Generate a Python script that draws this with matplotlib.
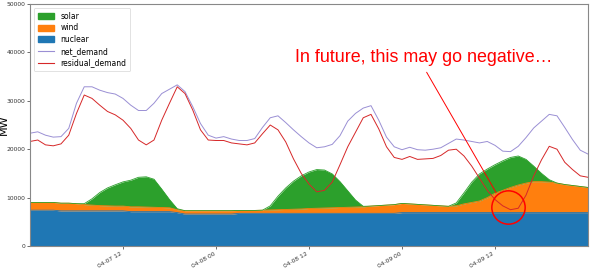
import numpy as np
import pandas as pd
import matplotlib
matplotlib.use('Agg')
import matplotlib.pyplot as plt
from matplotlib.patches import Patch
from matplotlib.lines import Line2D

# hourly values in thousand MW, 04-07 00:00 .. 04-10 00:00
net_demand = [23.3, 23.6, 22.9, 22.5, 22.6, 24.3, 29.5, 32.9, 32.9, 32.2, 31.7, 31.4,
              30.5, 29.1, 28.0, 28.0, 29.5, 31.5, 32.4, 33.3, 31.9, 28.8, 25.3, 22.9,
              22.3, 22.6, 22.1, 21.8, 21.8, 22.2, 24.5, 26.5, 26.9, 25.5, 24.0, 22.6,
              21.3, 20.3, 20.5, 21.0, 22.8, 25.8, 27.4, 28.5, 29.0, 26.0, 22.5, 20.5,
              19.9, 20.4, 19.9, 19.8, 20.0, 20.3, 21.2, 22.1, 21.9, 21.6, 21.3, 21.6,
              20.8, 19.6, 19.5, 20.6, 22.4, 24.4, 25.8, 27.2, 26.9, 24.5, 22.0, 19.8,
              19.0]
residual_demand = [21.6, 21.9, 20.9, 20.7, 21.1, 22.9, 27.4, 31.2, 30.5, 29.1, 27.8, 27.1,
                   26.0, 24.3, 21.9, 20.9, 21.9, 26.0, 29.5, 32.9, 31.5, 28.1, 24.0, 21.9,
                   21.8, 21.8, 21.3, 21.1, 20.9, 21.3, 23.2, 25.0, 24.0, 21.5, 18.0, 15.0,
                   12.8, 11.2, 11.5, 13.2, 16.8, 20.5, 23.5, 26.5, 27.2, 24.2, 20.5, 18.3,
                   17.9, 18.5, 17.9, 18.0, 18.1, 18.7, 19.8, 20.0, 18.6, 16.5, 14.0, 11.5,
                   9.6, 8.3, 7.5, 7.8, 10.5, 14.5, 17.8, 20.6, 20.0, 17.3, 15.8, 14.5,
                   14.2]
nuclear = [7.4, 7.4, 7.4, 7.4, 7.25, 7.25, 7.25, 7.25, 7.25, 7.25, 7.25, 7.25,
           7.25, 7.1, 7.1, 7.1, 7.1, 7.1, 7.1, 6.9, 6.6, 6.6, 6.6, 6.6,
           6.6, 6.6, 6.6, 6.75, 6.75, 6.75, 6.75, 6.75, 6.75, 6.75, 6.75, 6.75,
           6.75, 6.75, 6.75, 6.75, 6.75, 6.75, 6.75, 6.75, 6.75, 6.75, 6.75, 6.75,
           6.9, 6.9, 6.9, 6.9, 6.9, 6.9, 6.9, 6.9, 6.9, 6.9, 6.9, 6.9,
           6.9, 6.9, 6.9, 6.9, 6.9, 6.9, 6.9, 6.9, 6.9, 6.9, 6.9, 6.9,
           6.9]
wind = [1.6, 1.6, 1.6, 1.6, 1.6, 1.6, 1.5, 1.3, 1.2, 1.1, 1.05, 1.0,
        1.0, 1.0, 1.0, 0.95, 0.9, 0.85, 0.8, 0.6, 0.7, 0.7, 0.7, 0.7,
        0.7, 0.7, 0.7, 0.6, 0.6, 0.6, 0.65, 0.7, 0.75, 0.8, 0.85, 0.9,
        1.0, 1.05, 1.1, 1.15, 1.2, 1.25, 1.3, 1.35, 1.5, 1.6, 1.7, 1.8,
        1.9, 1.8, 1.7, 1.6, 1.5, 1.4, 1.3, 1.4, 1.8, 2.1, 2.4, 3.1,
        4.0, 4.6, 5.2, 5.7, 6.1, 6.4, 6.4, 6.3, 6.1, 5.8, 5.6, 5.4,
        5.2]
solar = [0, 0, 0, 0, 0, 0, 0, 0.2, 1.3, 2.7, 3.7, 4.4,
         5.0, 5.5, 6.1, 6.25, 5.8, 3.8, 1.7, 0.2, 0, 0, 0, 0,
         0, 0, 0, 0, 0, 0, 0, 0.85, 2.8, 4.45, 5.8, 6.85,
         7.55, 8.0, 7.85, 7.0, 5.35, 3.4, 1.45, 0.1, 0, 0, 0, 0,
         0, 0, 0, 0, 0, 0, 0, 0.6, 2.3, 4.2, 5.6, 5.9,
         5.9, 6.1, 6.2, 6.0, 4.9, 3.2, 1.7, 0.5, 0, 0, 0, 0,
         0]

times = pd.date_range('2021-04-07 00:00', periods=len(net_demand), freq='h')
tick_times = pd.date_range('2021-04-07 12:00', '2021-04-09 12:00', freq='12h')

note_text = 'In future, this may go negative\u2026'
note_pos = (pd.Timestamp('2021-04-08 10:10'), 38000)
arrow_start = (pd.Timestamp('2021-04-09 03:00'), 36400)
arrow_end = (pd.Timestamp('2021-04-09 12:20'), 10500)
ring_pos = (pd.Timestamp('2021-04-09 13:40'), 8000)

df = pd.DataFrame({'nuclear': nuclear, 'wind': wind, 'solar': solar,
                   'net_demand': net_demand, 'residual_demand': residual_demand},
                  index=times) * 1000

c_solar = '#2ca02c'
c_wind = '#ff7f0e'
c_nuc = '#1f77b4'
c_net = '#9a8fd4'
c_res = '#d62728'

fig = plt.figure(figsize=(6.07, 2.69), dpi=100)
ax = fig.add_axes([0.0494, 0.0855, 0.9193, 0.8995])

base = np.zeros(len(df))
for col, c in [('nuclear', c_nuc), ('wind', c_wind), ('solar', c_solar)]:
    top = base + df[col].values
    ax.fill_between(df.index, base, top, color=c, lw=0)
    ax.plot(df.index, top, color=c, lw=0.6)
    base = top

ax.plot(df.index, df['net_demand'], color=c_net, lw=0.7)
ax.plot(df.index, df['residual_demand'], color=c_res, lw=0.7)

ax.text(note_pos[0], note_pos[1], note_text, color='red', fontsize=12.9,
        family='Liberation Sans')
ax.annotate('', xy=arrow_end, xytext=arrow_start,
            arrowprops=dict(arrowstyle='-', color='red', lw=0.7))
ax.plot([ring_pos[0]], [ring_pos[1]], 'o', ms=24, mfc='none', mec='red', mew=1.1)

ax.set_xlim(times[0], times[-1])
ax.set_ylim(0, 50000)
ax.set_yticks([0, 10000, 20000, 30000, 40000, 50000])
ax.set_xticks(tick_times)
ax.set_xticklabels([t.strftime('%m-%d %H') for t in tick_times], rotation=30, ha='right')
ax.tick_params(labelsize=4.3, length=2, width=0.5, pad=1.5, colors='#333333')
ax.set_ylabel('MW', fontsize=8)
ax.yaxis.set_label_coords(-0.0385, 0.5)
for s in ax.spines.values():
    s.set_color('#888888')
    s.set_linewidth(0.8)

handles = [Patch(color=c_solar, label='solar'),
           Patch(color=c_wind, label='wind'),
           Patch(color=c_nuc, label='nuclear'),
           Line2D([], [], color=c_net, lw=0.8, label='net_demand'),
           Line2D([], [], color=c_res, lw=0.8, label='residual_demand')]
leg = ax.legend(handles=handles, loc='upper left', fontsize=5.5, frameon=True,
                handlelength=2.2, borderpad=0.5, labelspacing=0.35, handleheight=0.8)
leg.get_frame().set_linewidth(0.5)

fig.savefig('out.png', dpi=100)
